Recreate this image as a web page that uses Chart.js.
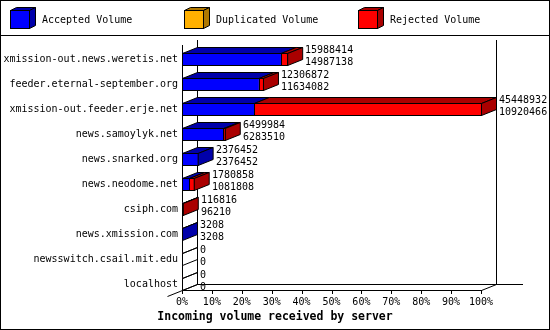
<!DOCTYPE html>
<html><head><meta charset="utf-8">
<script src="https://cdn.jsdelivr.net/npm/chart.js@4/dist/chart.umd.min.js"></script>
<style>html,body{margin:0;padding:0;background:#fff;}canvas{display:block;}</style>
</head><body>
<canvas id="c" width="550" height="330"></canvas>
<script>
// ---- data ----
const servers = [
  'xmission-out.news.weretis.net',
  'feeder.eternal-september.org',
  'xmission-out.feeder.erje.net',
  'news.samoylyk.net',
  'news.snarked.org',
  'news.neodome.net',
  'csiph.com',
  'news.xmission.com',
  'newsswitch.csail.mit.edu',
  'localhost'
];
const totalVolume    = [15988414, 12306872, 45448932, 6499984, 2376452, 1780858, 116816, 3208, 0, 0];
const acceptedVolume = [14987138, 11634082, 10920466, 6283510, 2376452, 1081808, 96210, 3208, 0, 0];
const duplicatedVolume = [0, 0, 0, 0, 0, 0, 0, 0, 0, 0];
const tickPercents = [0, 10, 20, 30, 40, 50, 60, 70, 80, 90, 100];
const legendLabels = ['Accepted Volume', 'Duplicated Volume', 'Rejected Volume'];
const axisTitle = 'Incoming volume received by server';

// ---- derived ----
const maxVolume = Math.max(...totalVolume);
const rejectedVolume = totalVolume.map((t, i) => t - acceptedVolume[i] - duplicatedVolume[i]);
const pct = v => v / maxVolume * 100;

const FRONT = ['#0000ff', '#ffb000', '#ff0000'];
const DARK  = ['#0000aa', '#b07800', '#aa0000'];
const DX = 15, DY = -6;
const MONO = '"DejaVu Sans Mono", "Liberation Mono", monospace';

function line(ctx, x1, y1, x2, y2) {
  ctx.beginPath(); ctx.moveTo(x1, y1); ctx.lineTo(x2, y2); ctx.stroke();
}
function poly(ctx, pts, fill) {
  ctx.beginPath();
  ctx.moveTo(pts[0][0], pts[0][1]);
  for (let k = 1; k < pts.length; k++) ctx.lineTo(pts[k][0], pts[k][1]);
  ctx.closePath();
  if (fill) { ctx.fillStyle = fill; ctx.fill(); }
  ctx.stroke();
}

const threeD = {
  id: 'threeD',
  beforeDatasetsDraw(chart) {
    const { ctx, scales: { x, y } } = chart;
    const L = Math.round(x.getPixelForValue(0));
    const R = Math.round(x.getPixelForValue(100));
    const floorY = Math.round(y.getPixelForTick(servers.length - 1)) + 6;
    ctx.save();
    ctx.strokeStyle = '#000'; ctx.lineWidth = 1;
    line(ctx, L + .5, 45, L + .5, floorY + 1);
    line(ctx, L + DX + .5, 40, L + DX + .5, floorY + DY + 1);
    line(ctx, R + DX + .5, 40, R + DX + .5, floorY + DY + 1);
    line(ctx, L + DX, floorY + DY + .5, 523, floorY + DY + .5);
    line(ctx, L, floorY + .5, R, floorY + .5);
    line(ctx, L - 15 + .5, floorY + 6 + .5, L + DX + .5, floorY + DY + .5);
    line(ctx, R + .5, floorY + .5, R + DX + .5, floorY + DY + .5);
    tickPercents.forEach(v => {
      const px = Math.round(x.getPixelForValue(v)) + .5;
      line(ctx, px, floorY, px, floorY + 4);
    });
    ctx.restore();
  },
  afterDatasetsDraw(chart) {
    const { ctx } = chart;
    ctx.save();
    ctx.strokeStyle = '#000'; ctx.lineWidth = 1;
    ctx.font = '10px ' + MONO;
    ctx.textAlign = 'left'; ctx.textBaseline = 'middle';
    for (let i = 0; i < servers.length; i++) {
      let lastDark = null, end = null, top = 0, bottom = 0, start = null, cy = 0;
      for (let d = 0; d < chart.data.datasets.length; d++) {
        const el = chart.getDatasetMeta(d).data[i];
        const l = Math.min(el.base, el.x), r = Math.max(el.base, el.x);
        top = Math.round(el.y - el.height / 2); bottom = Math.round(el.y + el.height / 2);
        cy = el.y;
        if (start === null) start = l;
        if (end === null) end = l;
        if (r - l > 0.001) {
          // top face
          poly(ctx, [[l + .5, top + .5], [r + .5, top + .5], [r + DX + .5, top + DY + .5], [l + DX + .5, top + DY + .5]], DARK[d]);
          // front outline
          ctx.strokeRect(Math.round(l) + .5, top + .5, Math.max(0, Math.round(r) - Math.round(l)), bottom - top);
          lastDark = DARK[d];
          end = r;
        }
      }
      if (lastDark === null) {
        line(ctx, start + .5, top + .5, start + DX + .5, top + DY + .5);
      }
      poly(ctx, [[end + .5, top + .5], [end + DX + .5, top + DY + .5], [end + DX + .5, bottom + DY + .5], [end + .5, bottom + .5]], lastDark);
      ctx.fillStyle = '#000';
      const tx = Math.round(end + DX + 3);
      ctx.fillText(String(totalVolume[i]), tx, cy - 9);
      ctx.fillText(String(acceptedVolume[i]), tx, cy + 3);
    }
    ctx.restore();
  },
  afterDraw(chart) {
    const { ctx, width, height } = chart;
    ctx.save();
    ctx.strokeStyle = '#000'; ctx.lineWidth = 1;
    ctx.strokeRect(.5, .5, width - 1, height - 1);
    line(ctx, 0, 35.5, width, 35.5);
    const lx = [10, 184, 358];
    ctx.font = '10px ' + MONO;
    ctx.textAlign = 'left'; ctx.textBaseline = 'middle';
    legendLabels.forEach((lab, k) => {
      const x0 = lx[k], y0 = 10, w = 19, h = 18, dx = 6, dy = -3;
      poly(ctx, [[x0 + .5, y0 + .5], [x0 + w + .5, y0 + .5], [x0 + w + dx + .5, y0 + dy + .5], [x0 + dx + .5, y0 + dy + .5]], DARK[k]);
      poly(ctx, [[x0 + w + .5, y0 + .5], [x0 + w + dx + .5, y0 + dy + .5], [x0 + w + dx + .5, y0 + h + dy + .5], [x0 + w + .5, y0 + h + .5]], DARK[k]);
      ctx.fillStyle = FRONT[k];
      ctx.fillRect(x0, y0, w, h);
      ctx.strokeRect(x0 + .5, y0 + .5, w, h);
      ctx.fillStyle = '#000';
      ctx.fillText(lab, x0 + 32, 20);
    });
    ctx.font = 'bold 11.5px ' + MONO;
    ctx.textAlign = 'center';
    ctx.fillText(axisTitle, width / 2, 317);
    ctx.restore();
  }
};

new Chart(document.getElementById('c'), {
  type: 'bar',
  data: {
    labels: servers,
    datasets: [
      { label: legendLabels[0], data: acceptedVolume.map(pct), backgroundColor: FRONT[0] },
      { label: legendLabels[1], data: duplicatedVolume.map(pct), backgroundColor: FRONT[1] },
      { label: legendLabels[2], data: rejectedVolume.map(pct), backgroundColor: FRONT[2] }
    ]
  },
  options: {
    indexAxis: 'y',
    responsive: false,
    devicePixelRatio: 1,
    animation: false,
    datasets: { bar: { barThickness: 12, borderWidth: 0 } },
    layout: { padding: { top: 46.5, left: 0, right: 69, bottom: 21.8 } },
    scales: {
      x: {
        type: 'linear', stacked: true, min: 0, max: 100,
        grid: { display: false, drawTicks: false }, border: { display: false },
        afterBuildTicks: s => { s.ticks = tickPercents.map(v => ({ value: v })); },
        afterFit: s => { s.height = 11.7; },
        ticks: { padding: 0, autoSkip: false, maxRotation: 0, color: '#000',
                 font: { family: MONO, size: 10 }, callback: v => v + '%' }
      },
      y: {
        type: 'category', stacked: true, offset: true,
        grid: { display: false, drawTicks: false }, border: { display: false },
        afterFit: s => { s.width = 182; },
        ticks: { padding: 4, autoSkip: false, color: '#000', font: { family: MONO, size: 10 } }
      }
    },
    plugins: { legend: { display: false }, tooltip: { enabled: false }, title: { display: false } }
  },
  plugins: [threeD]
});
</script>
</body></html>
